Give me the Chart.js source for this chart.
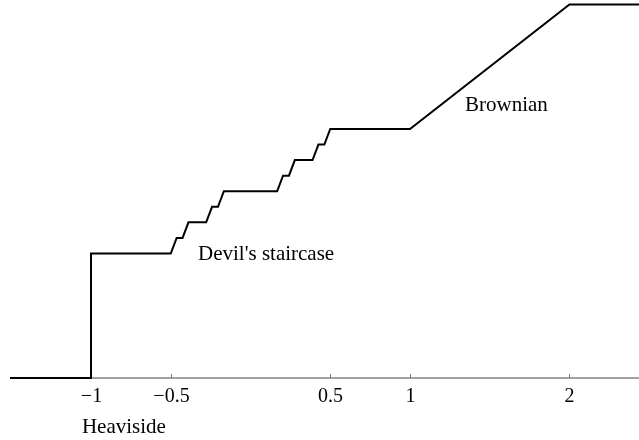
<!DOCTYPE html>
<html>
<head>
<meta charset="utf-8">
<script src="https://cdn.jsdelivr.net/npm/chart.js@4"></script>
<style>
  body { margin: 0; background: #fff; }
  #wrap { width: 639px; height: 440px; position: relative; }
</style>
</head>
<body>
<div id="wrap"><canvas id="chart"></canvas></div>
<script>
// pieces of the curve
const heavisideX = [-1.508, -1, -1, -0.5];
const heavisideY = [0, 0, 0.5, 0.5];

const staircaseX = [-0.5, -0.463, -0.426, -0.389, -0.278, -0.241, -0.204, -0.167,
                    0.167, 0.204, 0.241, 0.278, 0.389, 0.426, 0.463, 0.5];
const staircaseY = [0.5, 0.5625, 0.5625, 0.625, 0.625, 0.6875, 0.6875, 0.75,
                    0.75, 0.8125, 0.8125, 0.875, 0.875, 0.9375, 0.9375, 1];

const brownianX = [1, 2, 2.436];
const brownianY = [1, 1.5, 1.5];

const tickValues = [-1, -0.5, 0.5, 1, 2];
const tickLabels = ['\u22121', '\u22120.5', '0.5', '1', '2'];

const curveLabels = ['Devil\'s staircase', 'Brownian', 'Heaviside'];

const xs = heavisideX.concat(staircaseX.slice(1), brownianX);
const ys = heavisideY.concat(staircaseY.slice(1), brownianY);
const points = xs.map((x, i) => ({ x: x, y: ys[i] }));

const FONT = '"Liberation Serif", "Times New Roman", serif';

// label anchors (left / baseline) in data units
const labelPos = [
    { x: -0.329, y: 0.474 },
    { x: 1.345, y: 1.072 },
    { x: -1.057, y: -0.221 }
];

const axisPlugin = {
    id: 'axisPlugin',
    beforeDatasetsDraw(chart) {
        const ctx = chart.ctx;
        const xScale = chart.scales.x;
        const yScale = chart.scales.y;
        const area = chart.chartArea;
        const y0 = yScale.getPixelForValue(0);
        ctx.save();
        ctx.strokeStyle = '#444';
        ctx.lineWidth = 1.2;
        ctx.beginPath();
        ctx.moveTo(area.left, y0);
        ctx.lineTo(area.right, y0);
        ctx.stroke();
        ctx.strokeStyle = '#777';
        ctx.lineWidth = 1;
        ctx.fillStyle = '#000';
        ctx.font = '20px ' + FONT;
        ctx.textAlign = 'center';
        ctx.textBaseline = 'alphabetic';
        tickValues.forEach((v, i) => {
            const px = Math.round(xScale.getPixelForValue(v)) + 0.5;
            ctx.beginPath();
            ctx.moveTo(px, y0);
            ctx.lineTo(px, y0 - 4);
            ctx.stroke();
            ctx.fillText(tickLabels[i], px, y0 + 24);
        });
        ctx.restore();
    },
    afterDraw(chart) {
        const ctx = chart.ctx;
        const xScale = chart.scales.x;
        const yScale = chart.scales.y;
        ctx.save();
        ctx.fillStyle = '#000';
        ctx.font = '21px ' + FONT;
        ctx.textAlign = 'left';
        ctx.textBaseline = 'alphabetic';
        curveLabels.forEach((t, i) => {
            ctx.fillText(t, xScale.getPixelForValue(labelPos[i].x), yScale.getPixelForValue(labelPos[i].y));
        });
        ctx.restore();
    }
};

new Chart(document.getElementById('chart').getContext('2d'), {
    type: 'line',
    data: {
        datasets: [{
            data: points,
            borderColor: '#000',
            borderWidth: 2,
            borderJoinStyle: 'miter',
            pointRadius: 0,
            fill: false,
            tension: 0,
            clip: false
        }]
    },
    options: {
        responsive: true,
        maintainAspectRatio: false,
        animation: false,
        layout: { padding: { left: 10, right: 0, top: 0, bottom: 62 } },
        plugins: { legend: { display: false }, tooltip: { enabled: false } },
        scales: {
            x: { type: 'linear', min: -1.508, max: 2.436, display: false },
            y: { type: 'linear', min: 0, max: 1.518, display: false }
        }
    },
    plugins: [axisPlugin]
});
</script>
</body>
</html>
